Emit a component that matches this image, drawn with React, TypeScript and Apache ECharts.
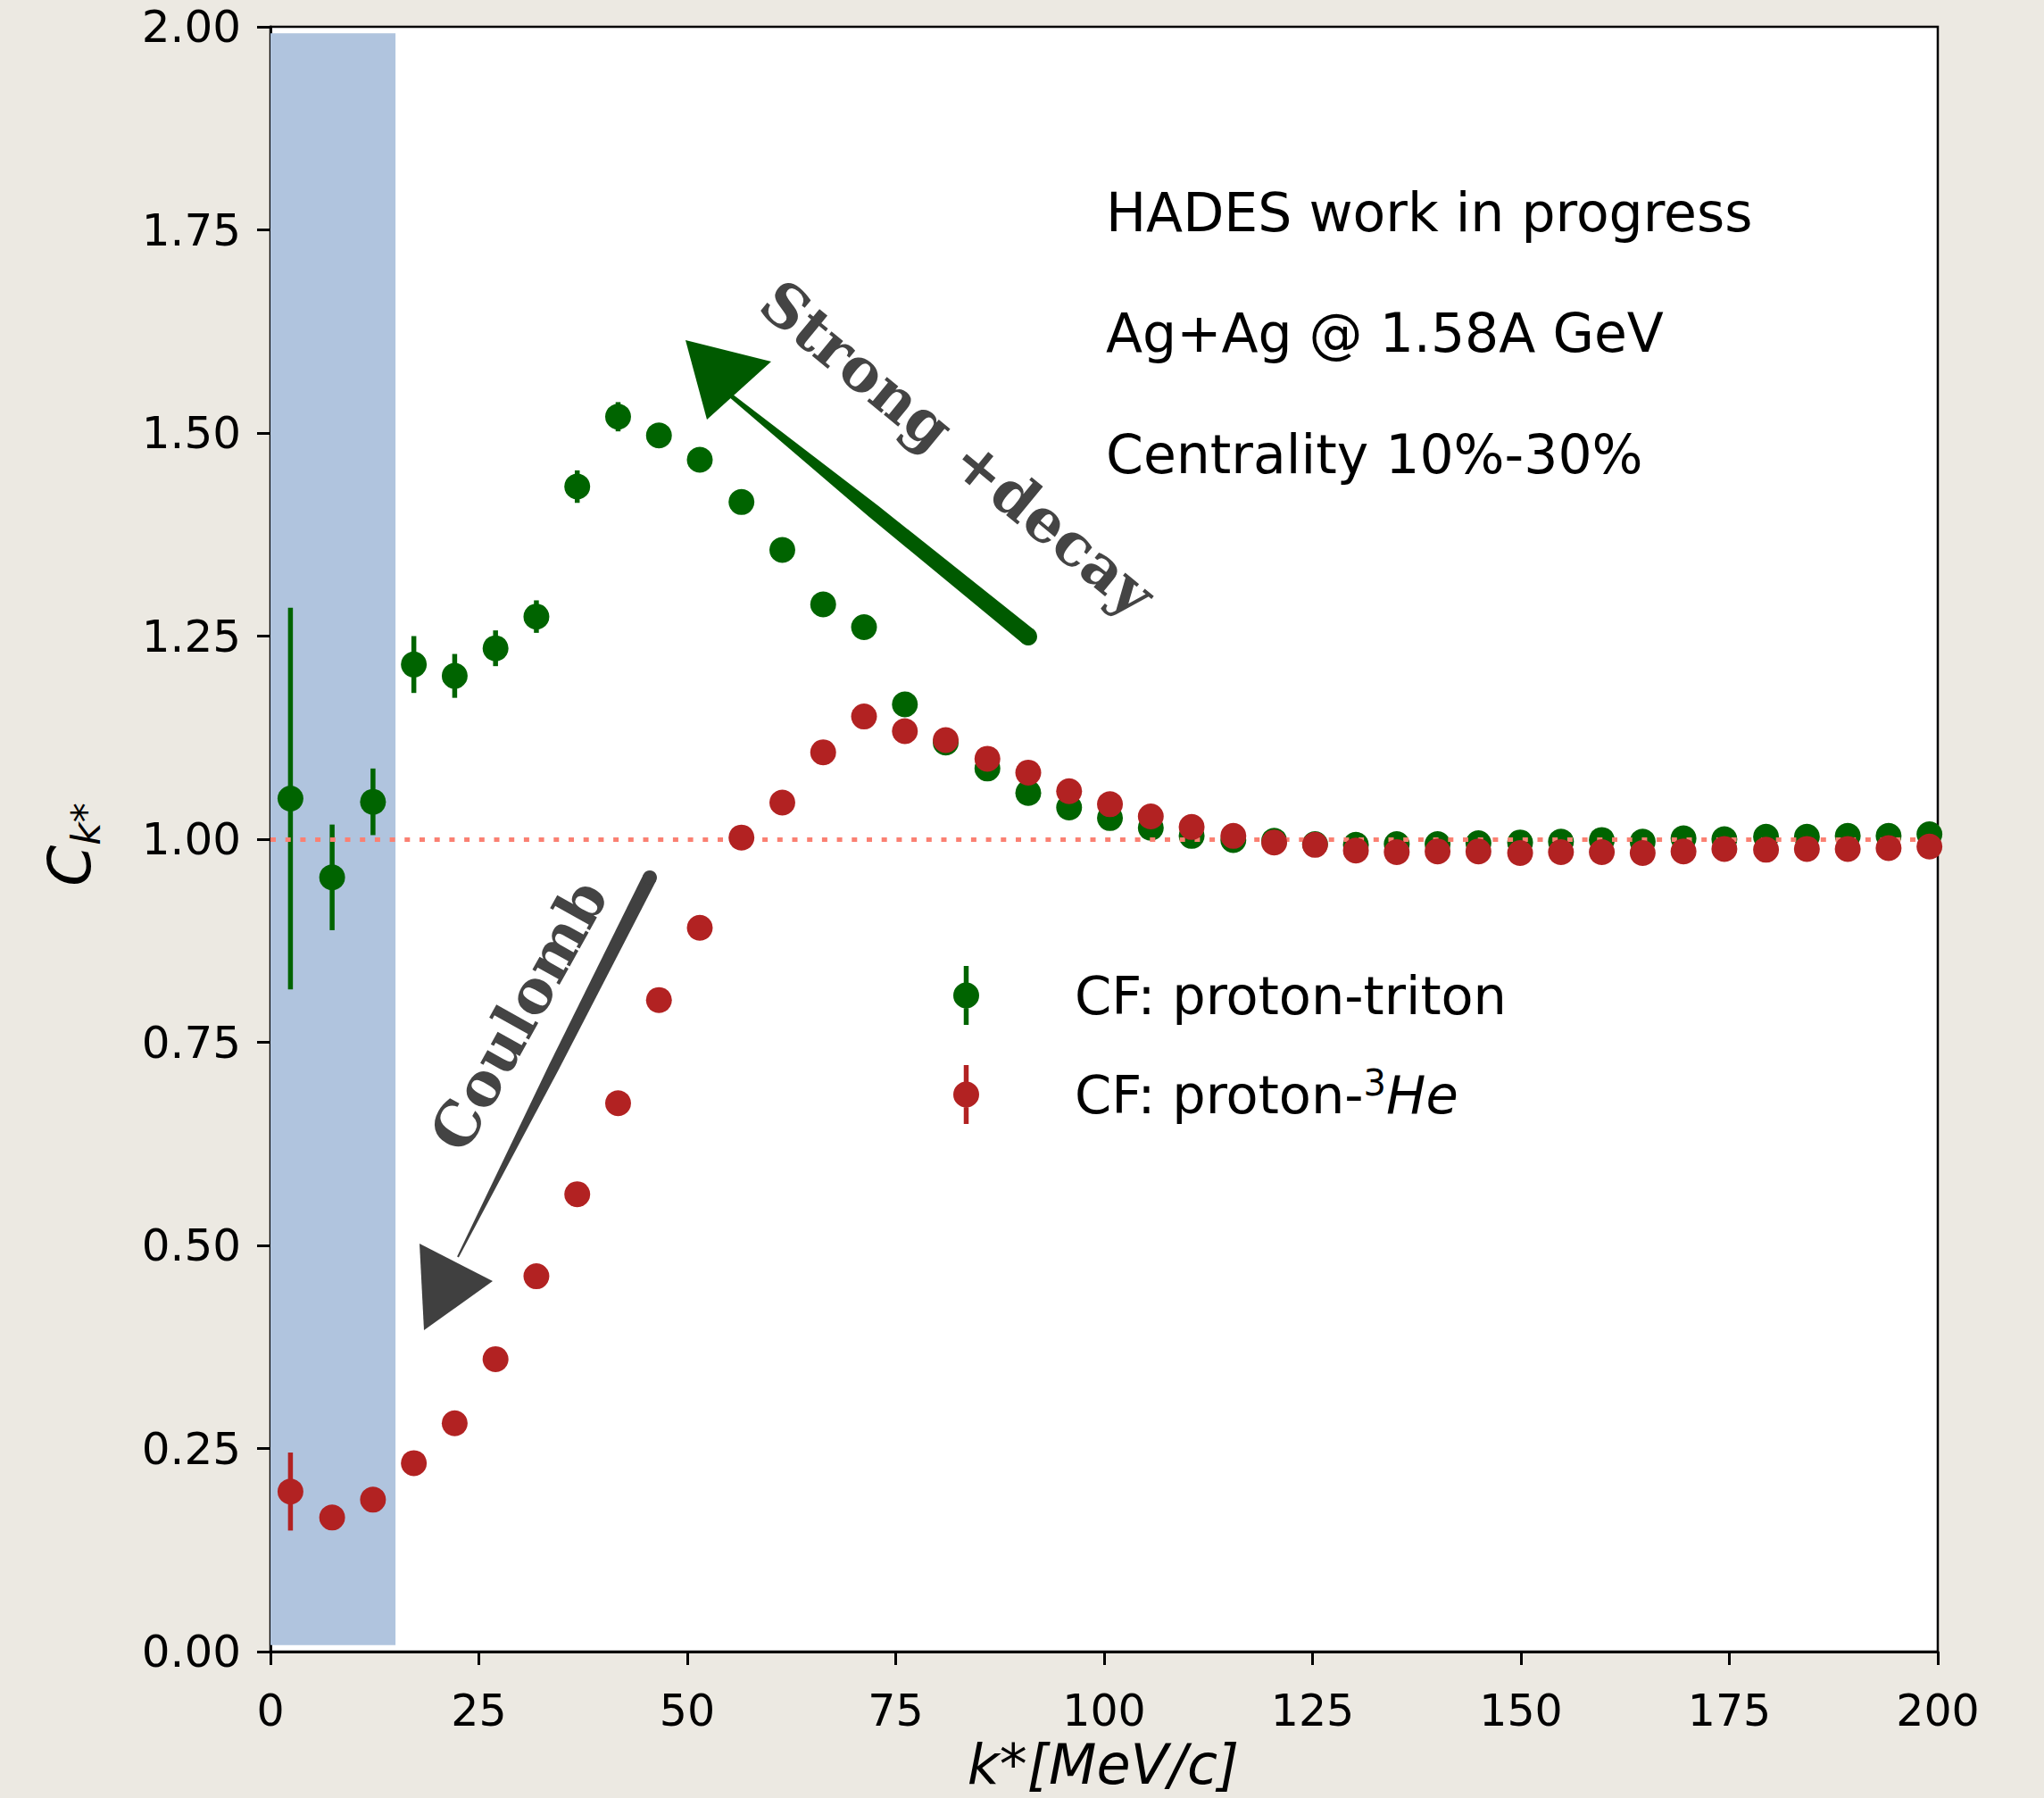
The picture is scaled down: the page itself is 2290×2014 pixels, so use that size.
import React, { useEffect, useRef } from 'react';
import * as echarts from 'echarts';

// ---------- data ----------
const kStar = [2.4, 7.4, 12.3, 17.2, 22.1, 27.0, 31.9, 36.8, 41.7, 46.6, 51.5, 56.5, 61.4, 66.3, 71.2, 76.1, 81.0, 86.0, 90.9, 95.8, 100.7, 105.6, 110.5, 115.5, 120.4, 125.3, 130.2, 135.1, 140.0, 144.9, 149.9, 154.8, 159.7, 164.6, 169.5, 174.4, 179.4, 184.3, 189.2, 194.1, 199.0];

const ptValues = [1.050, 0.953, 1.046, 1.215, 1.201, 1.235, 1.274, 1.434, 1.520, 1.497, 1.467, 1.415, 1.356, 1.289, 1.261, 1.166, 1.119, 1.087, 1.057, 1.039, 1.026, 1.014, 1.004, 0.999, 0.998, 0.994, 0.993, 0.994, 0.994, 0.995, 0.996, 0.997, 0.999, 0.997, 1.001, 1.000, 1.003, 1.003, 1.004, 1.004, 1.006];
const ptErrors = [0.235, 0.065, 0.041, 0.035, 0.027, 0.022, 0.020, 0.020, 0.018, 0.015, 0.013, 0.012, 0.011, 0.010, 0.009, 0.008, 0.008, 0.007, 0.007, 0.006, 0.006, 0.005, 0.005, 0.005, 0.005, 0.005, 0.005, 0.005, 0.005, 0.005, 0.005, 0.005, 0.005, 0.005, 0.005, 0.005, 0.005, 0.005, 0.005, 0.005, 0.005];

const pHeValues = [0.197, 0.165, 0.187, 0.232, 0.281, 0.360, 0.462, 0.563, 0.675, 0.802, 0.891, 1.002, 1.045, 1.107, 1.151, 1.133, 1.122, 1.099, 1.082, 1.059, 1.043, 1.028, 1.015, 1.004, 0.996, 0.993, 0.986, 0.984, 0.985, 0.985, 0.983, 0.984, 0.984, 0.983, 0.985, 0.988, 0.987, 0.988, 0.988, 0.989, 0.991];
const pHeErrors = [0.048, 0.010, 0.008, 0.007, 0.006, 0.006, 0.005, 0.005, 0.005, 0.005, 0.005, 0.005, 0.005, 0.005, 0.005, 0.005, 0.005, 0.005, 0.005, 0.005, 0.005, 0.005, 0.005, 0.005, 0.005, 0.005, 0.005, 0.005, 0.005, 0.005, 0.005, 0.005, 0.005, 0.005, 0.005, 0.005, 0.005, 0.005, 0.005, 0.005, 0.005];

const seriesNames = ['CF: proton-triton', 'CF: proton-3He'];
const infoLines = ['HADES work in progress', 'Ag+Ag @ 1.58A GeV', 'Centrality 10%-30%'];
const excludedRange = [0, 15];
const referenceLevel = 1;

const GREEN = '#006400';
const RED = '#b22222';
const SANS = 'DejaVu Sans';
const SERIF = 'DejaVu Serif';

function brush(x1: number, y1: number, x2: number, y2: number, w1: number, wm: number, w2: number) {
  const dx = x2 - x1, dy = y2 - y1;
  const L = Math.hypot(dx, dy);
  const ux = dx / L, uy = dy / L;
  const nx = -uy, ny = ux;
  const pts: number[][] = [];
  const prof = [[0, w1], [0.5, wm], [1, w2]];
  prof.forEach(([t, w]) => pts.push([x1 + ux * L * t + nx * w, y1 + uy * L * t + ny * w]));
  prof.slice().reverse().forEach(([t, w]) => pts.push([x1 + ux * L * t - nx * w, y1 + uy * L * t - ny * w]));
  return pts;
}

function errRender(color: string) {
  return (params: any, api: any) => {
    const x = api.value(0), y = api.value(1), e = api.value(2);
    const p1 = api.coord([x, y - e]);
    const p2 = api.coord([x, y + e]);
    return {
      type: 'line',
      shape: { x1: p1[0], y1: p1[1], x2: p2[0], y2: p2[1] },
      style: { stroke: color, lineWidth: 5.5 },
    };
  };
}

export default function App() {
  const ref = useRef<HTMLDivElement>(null);
  useEffect(() => {
    if (!ref.current) return;
    const chart = echarts.init(ref.current, null, { renderer: 'svg' });
    const ptData = kStar.map((x, i) => [x, ptValues[i], ptErrors[i]]);
    const heData = kStar.map((x, i) => [x, pHeValues[i], pHeErrors[i]]);

    const legendIcon = 'path://M11.75,0 L17.25,0 L17.25,66 L11.75,66 Z M0,33 A14.5,14.5 0 1,1 29,33 A14.5,14.5 0 1,1 0,33 Z';

    const option: any = {
      animation: false,
      backgroundColor: '#ece9e2',
      grid: {
        left: 303, top: 30, right: 119, bottom: 164,
        show: true, backgroundColor: '#ffffff', borderColor: '#000', borderWidth: 2.5,
        outerBoundsMode: 'none', containLabel: false,
      },
      xAxis: {
        type: 'value', min: 0, max: 200, interval: 25,
        axisLine: { show: true, onZero: false, lineStyle: { color: '#000', width: 3 } },
        axisTick: { show: true, inside: false, length: 15, lineStyle: { color: '#000', width: 3 } },
        axisLabel: { fontSize: 49, fontFamily: SANS, color: '#000', margin: 42 },
        splitLine: { show: false },
      },
      yAxis: {
        type: 'value', min: 0, max: 2, interval: 0.25,
        axisLine: { show: true, onZero: false, lineStyle: { color: '#000', width: 3 } },
        axisTick: { show: true, inside: false, length: 15, lineStyle: { color: '#000', width: 3 } },
        axisLabel: { fontSize: 50, fontFamily: SANS, color: '#000', margin: 33, formatter: (v: number) => v.toFixed(2) },
        splitLine: { show: false },
      },
      legend: {
        show: true, orient: 'vertical', left: 1063, top: 1077,
        itemWidth: 29, itemHeight: 66, itemGap: 45, icon: legendIcon,
        selectedMode: false,
        data: seriesNames,
        formatter: (name: string) => name === seriesNames[1] ? 'CF: proton-{sup|3}{it|He}' : name,
        textStyle: {
          fontSize: 59, fontFamily: SANS, color: '#000', lineHeight: 66, padding: [0, 0, 0, 102],
          rich: {
            sup: { fontSize: 40, fontFamily: SANS, color: '#000', lineHeight: 40, verticalAlign: 'top' },
            it: { fontSize: 59, fontFamily: SANS, fontStyle: 'italic', color: '#000', lineHeight: 66 },
          },
        },
      },
      series: [
        {
          type: 'line', name: 'band', data: [], z: 1, silent: true,
          markArea: {
            silent: true,
            itemStyle: { color: '#b0c4de', opacity: 1 },
            data: [[{ coord: [excludedRange[0], 0.008] }, { coord: [excludedRange[1], 1.992] }]],
          },
        },
        {
          type: 'line', name: 'ref', data: [], z: 2, silent: true,
          markLine: {
            silent: true, symbol: 'none', label: { show: false },
            lineStyle: { color: '#fa8072', width: 5, type: [6, 10.7], cap: 'butt' },
            data: [{ yAxis: referenceLevel }],
          },
        },
        {
          type: 'custom', name: 'ptErr', data: ptData, z: 3, silent: true,
          encode: { x: 0, y: 1 }, renderItem: errRender(GREEN),
        },
        {
          type: 'scatter', name: seriesNames[0], data: ptData, z: 4,
          symbol: 'circle', symbolSize: 29, itemStyle: { color: GREEN, opacity: 1 },
          encode: { x: 0, y: 1 },
        },
        {
          type: 'custom', name: 'heErr', data: heData, z: 5, silent: true,
          encode: { x: 0, y: 1 }, renderItem: errRender(RED),
        },
        {
          type: 'scatter', name: seriesNames[1], data: heData, z: 6,
          symbol: 'circle', symbolSize: 29, itemStyle: { color: RED, opacity: 1 },
          encode: { x: 0, y: 1 },
        },
      ],
      graphic: [
        // info texts
        ...infoLines.map((t, i) => ({
          type: 'text', x: 1239, y: [238, 373, 509][i], z: 100,
          style: { text: t, fontSize: 60, fontFamily: SANS, fill: '#000', align: 'left', verticalAlign: 'middle', textAlign: 'left', textVerticalAlign: 'middle' },
        })),
        // axis names
        {
          type: 'text', x: 1236, y: 1976, z: 100,
          style: { text: 'k*[MeV/c]', fontSize: 62, fontStyle: 'italic', fontFamily: SANS, fill: '#000', align: 'center', verticalAlign: 'middle', textAlign: 'center', textVerticalAlign: 'middle' },
        },
        {
          type: 'text', x: 78, y: 946, z: 100, rotation: Math.PI / 2,
          style: {
            text: '{c|C}{s|k*}', align: 'center', verticalAlign: 'middle', textAlign: 'center', textVerticalAlign: 'middle',
            rich: {
              c: { fontSize: 66, fontStyle: 'italic', fontFamily: SANS, fill: '#000', lineHeight: 80 },
              s: { fontSize: 44, fontStyle: 'italic', fontFamily: SANS, fill: '#000', lineHeight: 44, verticalAlign: 'bottom' },
            },
          },
        },
        // green arrow
        { type: 'polygon', z: 90, shape: { points: brush(805, 432, 1152, 713, 2, 8, 10) }, style: { fill: '#005a00' } },
        { type: 'circle', z: 90, shape: { cx: 1152, cy: 713, r: 10 }, style: { fill: '#005a00' } },
        { type: 'polygon', z: 90, shape: { points: [[768, 381], [864, 405], [792, 470]] }, style: { fill: '#005a00' } },
        // gray arrow
        { type: 'polygon', z: 90, shape: { points: brush(728, 983, 513, 1408, 8, 6, 1) }, style: { fill: '#404040' } },
        { type: 'circle', z: 90, shape: { cx: 728, cy: 983, r: 8 }, style: { fill: '#404040' } },
        { type: 'polygon', z: 90, shape: { points: [[470, 1393], [552, 1435], [475, 1490]] }, style: { fill: '#404040' } },
        // annotation texts
        {
          type: 'text', x: 1073, y: 502, z: 100, rotation: -0.688,
          style: { text: 'Strong +decay', fontSize: 67, fontWeight: 'bold', fontFamily: SERIF, fill: '#444', align: 'center', verticalAlign: 'middle', textAlign: 'center', textVerticalAlign: 'middle' },
        },
        {
          type: 'text', x: 581, y: 1137, z: 100, rotation: 1.063,
          style: { text: 'Coulomb', fontSize: 67, fontWeight: 'bold', fontFamily: SERIF, fill: '#444', align: 'center', verticalAlign: 'middle', textAlign: 'center', textVerticalAlign: 'middle' },
        },
      ],
    };
    chart.setOption(option);
    return () => chart.dispose();
  }, []);
  return <div ref={ref} style={{ position: 'absolute', left: 0, top: 0, width: 2290, height: 2014 }} />;
}
